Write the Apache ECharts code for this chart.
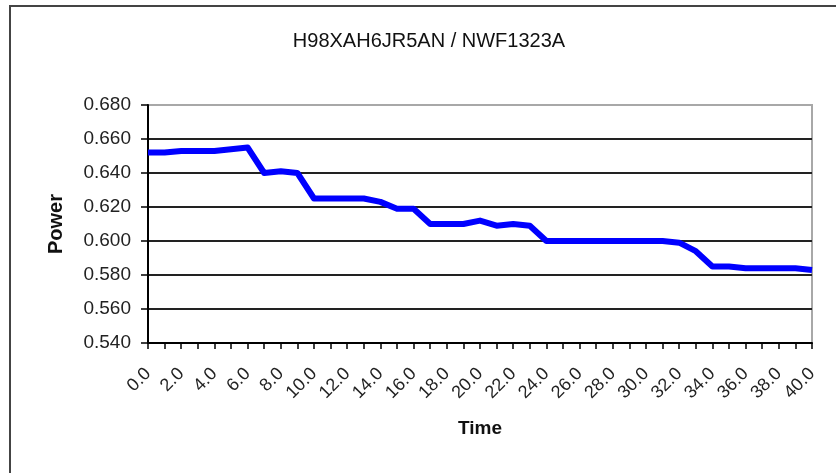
<!DOCTYPE html>
<html>
<head>
<meta charset="utf-8">
<script src="https://cdn.jsdelivr.net/npm/echarts@6/dist/echarts.min.js"></script>
<style>
html,body{margin:0;padding:0;background:#fff;}
#chart{width:836px;height:473px;}
</style>
</head>
<body>
<div id="chart"></div>
<script>
var titleText = 'H98XAH6JR5AN / NWF1323A';
var xName = 'Time';
var yName = 'Power';
var timeCategories = ['0.0','1.0','2.0','3.0','4.0','5.0','6.0','7.0','8.0','9.0','10.0','11.0','12.0','13.0','14.0','15.0','16.0','17.0','18.0','19.0','20.0','21.0','22.0','23.0','24.0','25.0','26.0','27.0','28.0','29.0','30.0','31.0','32.0','33.0','34.0','35.0','36.0','37.0','38.0','39.0','40.0'];
var powerValues = [0.652,0.652,0.653,0.653,0.653,0.654,0.655,0.640,0.641,0.640,0.625,0.625,0.625,0.625,0.623,0.619,0.619,0.610,0.610,0.610,0.612,0.609,0.610,0.609,0.600,0.600,0.600,0.600,0.600,0.600,0.600,0.600,0.599,0.594,0.585,0.585,0.584,0.584,0.584,0.584,0.583];
var yMin = 0.54, yMax = 0.68, yStep = 0.02;

var chart = echarts.init(document.getElementById('chart'), null, {renderer:'canvas'});
var font = '"Liberation Sans", Arial, sans-serif';
chart.setOption({
  animation: false,
  backgroundColor: '#ffffff',
  title: {
    text: titleText,
    left: 424, top: 26, textAlign: 'center',
    textStyle: {fontFamily: font, fontSize: 20, fontWeight: 'normal', color: '#111'}
  },
  graphic: [{
    type: 'rect', silent: true, z: 100,
    shape: {x: 10, y: 6, width: 900, height: 600},
    style: {fill: 'none', stroke: '#444', lineWidth: 2}
  }],
  grid: {
    left: 148, top: 105, width: 664, height: 238,
    show: true, borderColor: '#a8a8a8', borderWidth: 2, backgroundColor: '#fff'
  },
  xAxis: {
    type: 'category',
    data: timeCategories,
    boundaryGap: false,
    name: xName,
    nameLocation: 'middle',
    nameGap: 76,
    nameTextStyle: {fontFamily: font, fontSize: 19, fontWeight: 'bold', color: '#111'},
    axisLine: {lineStyle: {color: '#000', width: 2}},
    axisTick: {show: true, interval: 0, length: 6, lineStyle: {color: '#000', width: 1.5}},
    axisLabel: {interval: 1, rotate: 45, margin: 28, fontFamily: font, fontSize: 18, color: '#222'},
    splitLine: {show: false}
  },
  yAxis: {
    type: 'value',
    min: yMin, max: yMax, interval: yStep,
    name: yName,
    nameLocation: 'middle',
    nameGap: 82,
    nameRotate: 90,
    nameTextStyle: {fontFamily: font, fontSize: 20, fontWeight: 'bold', color: '#111'},
    axisLine: {show: true, lineStyle: {color: '#000', width: 2}},
    axisTick: {show: true, length: 7, lineStyle: {color: '#000', width: 1.5}},
    axisLabel: {margin: 17, fontFamily: font, fontSize: 19, color: '#222',
      formatter: function (v) { return v.toFixed(3); }},
    splitLine: {show: true, lineStyle: {color: ['#222','#222','#222','#222','#222','#222','#222','#a8a8a8'], width: 2}}
  },
  series: [{
    type: 'line',
    data: powerValues,
    showSymbol: false,
    symbol: 'none',
    lineStyle: {color: '#0000ff', width: 6, join: 'round'},
    itemStyle: {color: '#0000ff'}
  }]
});
</script>
</body>
</html>
